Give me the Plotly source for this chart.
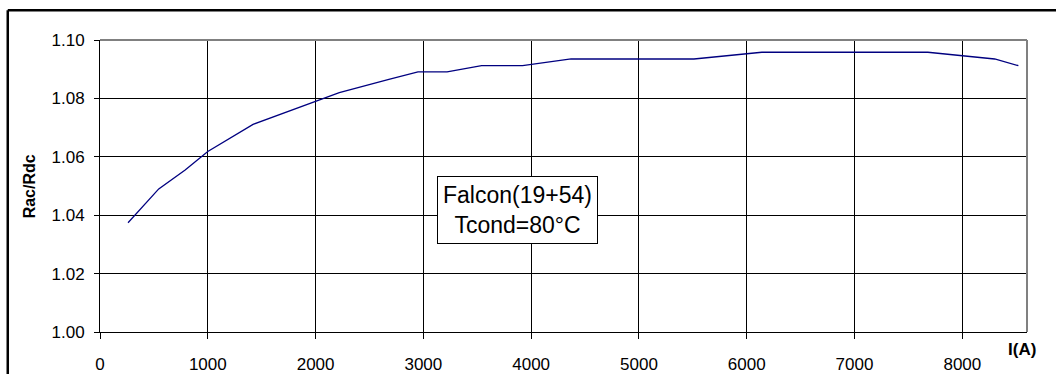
import plotly.graph_objects as go

# Current I(A) versus AC/DC resistance ratio
current_a = [260, 545, 790, 1000, 1420, 2220, 2680, 2950, 3220, 3540, 3920,
             4370, 5510, 6140, 7680, 8300, 8520]
rac_rdc = [1.0374, 1.0490, 1.0555, 1.0618, 1.0711, 1.0820, 1.0865, 1.0891,
           1.0891, 1.0912, 1.0912, 1.0935, 1.0935, 1.0958, 1.0958, 1.0935,
           1.0912]

x_ticks = [0, 1000, 2000, 3000, 4000, 5000, 6000, 7000, 8000]
y_ticks = [1.00, 1.02, 1.04, 1.06, 1.08, 1.10]
y_tick_text = ["1.00", "1.02", "1.04", "1.06", "1.08", "1.10"]

FONT = "Liberation Sans, Arial, sans-serif"

fig = go.Figure()
fig.add_trace(go.Scatter(
    x=current_a, y=rac_rdc, mode="lines",
    line=dict(color="#000080", width=1.3),
    showlegend=False, hoverinfo="skip",
))

fig.update_layout(
    width=1056, height=374,
    margin=dict(l=100, r=29, t=40, b=42),
    paper_bgcolor="white", plot_bgcolor="white",
    font=dict(family=FONT, size=17, color="black"),
    xaxis=dict(
        range=[0, 8600], tickvals=x_ticks, showgrid=True,
        gridcolor="black", gridwidth=1, zeroline=False,
        showline=True, linecolor="black", linewidth=1,
        ticks="outside", ticklen=6, tickcolor="black",
        ticklabelstandoff=11, automargin=False,
    ),
    yaxis=dict(
        range=[1.0, 1.10], tickvals=y_ticks, ticktext=y_tick_text,
        showgrid=True, gridcolor="black", gridwidth=1, zeroline=False,
        showline=True, linecolor="black", linewidth=1,
        ticks="outside", ticklen=5, tickcolor="black",
        ticklabelstandoff=6, automargin=False,
    ),
    shapes=[
        # gray plot-area border on top and right
        dict(type="line", xref="paper", yref="paper", x0=0, x1=1, y0=1, y1=1,
             line=dict(color="#808080", width=2)),
        dict(type="line", xref="paper", yref="paper", x0=1, x1=1, y0=0, y1=1,
             line=dict(color="#808080", width=2)),
        # outer chart frame
        dict(type="line", xref="paper", yref="paper", x0=-0.0995, x1=1.1,
             y0=1.1015, y1=1.1015, line=dict(color="black", width=2.5)),
        dict(type="line", xref="paper", yref="paper", x0=-0.0995, x1=-0.0995,
             y0=1.1015, y1=-0.2, line=dict(color="black", width=2.5)),
    ],
    annotations=[
        dict(text="Falcon(19+54)<br>Tcond=80°C", xref="paper", yref="paper",
             x=0.4502, y=0.4161, xanchor="center", yanchor="middle",
             showarrow=False, font=dict(family=FONT, size=23, color="black"),
             bgcolor="white", bordercolor="black", borderwidth=1, borderpad=5),
        dict(text="<b>Rac/Rdc</b>", xref="paper", yref="paper",
             x=-0.0762, y=0.5, textangle=-90, xanchor="center", yanchor="middle",
             showarrow=False, font=dict(family=FONT, size=16, color="black")),
        dict(text="<b>I(A)</b>", xref="paper", yref="paper",
             x=0.9949, y=-0.0616, xanchor="center", yanchor="middle",
             showarrow=False, font=dict(family=FONT, size=17, color="black")),
    ],
)

fig.write_html("out.html")
